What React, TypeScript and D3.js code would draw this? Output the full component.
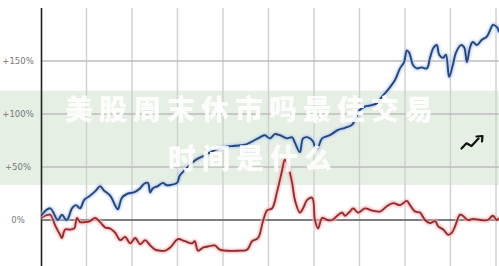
import React from "react";
import * as d3 from "d3";

// x positions in periods (grid every 10), values in % change
const blueDays = [0, 2.0, 3.7, 4.6, 5.5, 5.9, 6.8, 7.7, 8.6, 9.5, 10.8, 12.1, 13.0, 13.8, 15.2, 16.5, 16.9, 17.8, 19.1, 20.4, 21.8, 22.6, 23.5, 24.0, 24.6, 25.7, 26.8, 27.5, 28.4, 29.9, 30.5, 31.6, 32.7, 34.1, 36.0, 38.2, 40.4, 42.6, 44.8, 45.9, 48.1, 49.2, 50.3, 51.4, 52.5, 54.1, 55.2, 55.8, 56.9, 57.6, 58.7, 59.8, 60.2, 60.7, 61.8, 63.5, 65.3, 66.8, 68.4, 70.1, 71.2, 72.3, 73.8, 74.9, 76.3, 77.8, 78.9, 79.8, 80.4, 80.9, 81.8, 82.6, 83.7, 84.8, 85.5, 86.2, 87.0, 87.5, 88.4, 89.0, 89.7, 90.5, 91.2, 92.3, 93.0, 93.6, 94.3, 94.9, 95.8, 96.9, 98.0, 98.7, 99.3, 100.2, 100.7];
const blueValues = [4, 11, 0, 5, 0, 1, 11, 14, 11, 19, 23, 28, 32, 28, 23, 12, 10, 21, 25, 26, 30, 34, 35, 26, 30, 32, 35, 33, 33, 35, 42, 47, 52, 57, 61, 66, 69, 70, 71, 73, 78, 80, 77, 81, 80, 77, 78, 73, 64, 77, 78, 74, 69, 67, 77, 80, 85, 87, 90, 104, 107, 108, 110, 116, 123, 132, 143, 149, 160, 158, 146, 143, 144, 143, 153, 162, 165, 156, 153, 156, 135, 146, 158, 165, 163, 149, 163, 168, 165, 170, 173, 179, 184, 182, 177];

const redDays = [0, 2.0, 3.1, 4.2, 4.6, 5.3, 6.4, 7.3, 7.9, 8.6, 9.7, 10.8, 11.9, 13.0, 14.1, 15.2, 16.3, 17.4, 18.5, 19.6, 20.7, 21.8, 22.9, 24.0, 25.1, 26.2, 27.3, 28.4, 30.1, 31.6, 33.2, 33.8, 34.5, 35.6, 36.7, 38.2, 39.3, 40.9, 43.3, 45.3, 46.4, 47.7, 48.8, 49.7, 50.8, 51.9, 53.0, 53.6, 54.3, 55.2, 55.8, 56.9, 57.6, 58.5, 59.6, 60.2, 60.9, 61.8, 62.9, 64.0, 65.1, 66.2, 66.8, 67.9, 68.6, 69.7, 71.2, 72.7, 74.5, 76.0, 77.4, 78.9, 80.4, 81.1, 82.2, 83.3, 84.4, 85.5, 86.6, 87.3, 88.4, 89.5, 90.3, 91.0, 92.1, 92.7, 93.8, 94.9, 96.5, 98.2, 99.3, 100.2, 100.7];
const redValues = [2, 5, -5, -14, -17, -9, -9, -8, 2, -2, -2, -1, 2, -2, -7, -8, -12, -19, -16, -22, -17, -23, -19, -24, -28, -29, -29, -26, -18, -20, -22, -20, -29, -26, -25, -24, -28, -29, -29, -28, -20, -17, -1, 9, 11, 27, 47, 57, 51, 35, 19, 7, 11, 19, 21, 0, -8, 2, 0, 0, 4, 7, 4, 8, 11, 7, 11, 9, 8, 13, 16, 14, 18, 14, 8, 7, 0, -3, -1, -6, -9, -14, -12, -6, 5, 4, 0, 1, 0, 0, 4, 0, 2];

const yTicks = [150, 100, 50, 0];
const yTickLabels = ["+150%", "+100%", "+50%", "0%"];
const xGrid = [10, 20, 30, 40, 50, 60, 70, 80, 90, 100];
const titleLines = ["美股周末休市吗最佳交易", "时间是什么"];

const W = 499;
const H = 266;

export default function App() {
  const x = d3.scaleLinear().domain([0, 100]).range([41, 496]);
  const y = d3.scaleLinear().domain([0, 150]).range([220, 61]);
  const line = d3
    .line<[number, number]>()
    .x((d) => x(d[0]))
    .y((d) => y(d[1]))
    .curve(d3.curveCatmullRom.alpha(0.5));
  const blue = blueDays.map((d, i) => [d, blueValues[i]] as [number, number]);
  const red = redDays.map((d, i) => [d, redValues[i]] as [number, number]);
  const bandTop = y(122);
  const bandBottom = y(33);

  return (
    <svg
      width={W}
      height={H}
      style={{ position: "fixed", left: 0, top: 0, background: "#fff" }}
      fontFamily="'DejaVu Sans', sans-serif"
    >
      <defs>
        <filter id="blur" x="-5%" y="-20%" width="110%" height="140%">
          <feGaussianBlur stdDeviation="1" />
        </filter>
        <filter id="soft" x="-5%" y="-20%" width="110%" height="140%">
          <feGaussianBlur stdDeviation="0.7" />
        </filter>
        <clipPath id="plot">
          <rect x={41} y={0} width={W - 41} height={H} />
        </clipPath>
      </defs>
      <rect x={0} y={0} width={W} height={H} fill="#ffffff" />
      <rect x={0} y={bandTop} width={W} height={bandBottom - bandTop} fill="#e6efe3" />
      {xGrid.map((g) => (
        <line key={g} x1={x(g)} x2={x(g)} y1={8} y2={H} stroke="#cfcfcf" strokeWidth={1.4} />
      ))}
      {yTicks.filter((t) => t !== 0).map((t) => (
        <line key={t} x1={41} x2={W} y1={y(t)} y2={y(t)} stroke="#bdbdbd" strokeWidth={1.3} />
      ))}
      <line x1={41} x2={W} y1={y(0)} y2={y(0)} stroke="#555" strokeWidth={1.4} />
      <line x1={41.5} x2={41.5} y1={8} y2={H} stroke="#222" strokeWidth={1.6} />
      {yTicks.map((t, i) => (
        <text
          key={t}
          x={18}
          y={y(t)}
          dy="0.35em"
          textAnchor="middle"
          fontSize={8.5}
          fill="#777"
        >
          {yTickLabels[i]}
        </text>
      ))}
      <g clipPath="url(#plot)">
        <path d={line(red) || ""} fill="none" stroke="#f2b6b6" strokeWidth={4} filter="url(#blur)" />
        <path d={line(red) || ""} fill="none" stroke="#952a2d" strokeWidth={1.8} />
        <path d={line(blue) || ""} fill="none" stroke="#b5cbec" strokeWidth={4} filter="url(#blur)" />
        <path d={line(blue) || ""} fill="none" stroke="#25467f" strokeWidth={1.9} />
      </g>
      <g
        fill="#ffffff"
        fillOpacity={0.9}
        fontFamily="'Noto Sans CJK SC', sans-serif"
        fontWeight={900}
        filter="url(#soft)"
      >
        <text x={252} y={110} dy="0.36em" textAnchor="middle" fontSize={28} letterSpacing={6}>
          {titleLines[0]}
        </text>
        <text x={253} y={159} dy="0.36em" textAnchor="middle" fontSize={28} letterSpacing={6}>
          {titleLines[1]}
        </text>
      </g>
      <g fill="none" stroke="#111" strokeWidth={2.2} strokeLinejoin="round" strokeLinecap="round">
        <polyline points="461.5,148.5 466.5,143.3 471.5,146 478.5,138.5" />
        <polyline points="476.5,136.5 482.5,136 482,141.5" />
      </g>
    </svg>
  );
}
